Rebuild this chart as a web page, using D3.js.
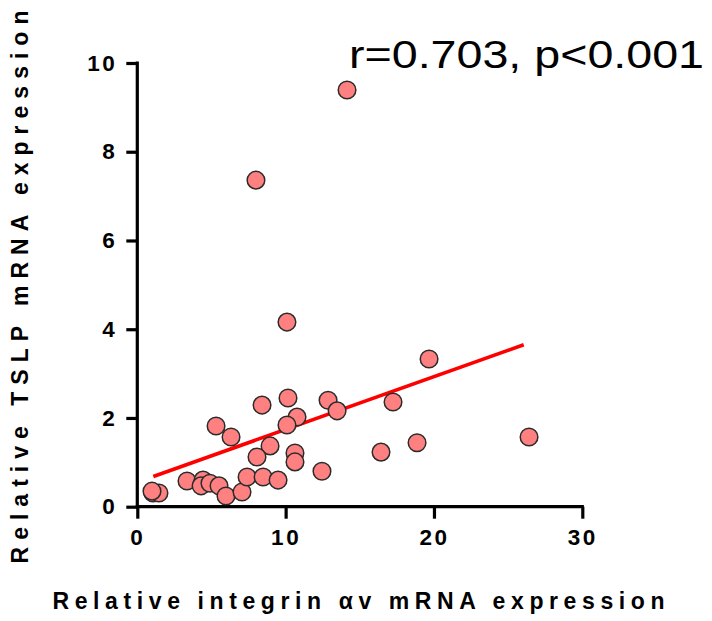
<!DOCTYPE html>
<html>
<head>
<meta charset="utf-8">
<script src="https://cdn.jsdelivr.net/npm/d3@7"></script>
<style>
  html, body { margin: 0; padding: 0; background: #fff; }
  svg { display: block; }
</style>
</head>
<body>
<svg id="chart" width="712" height="621"></svg>
<script>
// ---- data ----
const integrinAv = [14.14, 8.0, 10.09, 19.67, 10.16, 12.86, 8.41, 13.47, 17.24, 5.31,
                    10.77, 10.09, 6.32, 8.95, 10.63, 10.63, 8.07, 16.43, 18.86, 26.41,
                    12.45, 3.35, 4.43, 4.30, 4.90, 5.51, 5.98, 7.06, 7.40, 8.48,
                    9.49, 1.06, 1.46, 0.99];
const tslp = [9.39, 7.36, 4.16, 3.33, 2.45, 2.40, 2.29, 2.16, 2.36, 1.82,
              2.02, 1.84, 1.57, 1.37, 1.21, 1.01, 1.12, 1.23, 1.44, 1.57,
              0.80, 0.58, 0.60, 0.47, 0.53, 0.47, 0.24, 0.33, 0.67, 0.67,
              0.60, 0.31, 0.31, 0.35];
const fitX = [1.08, 26.05];
const fitY = [0.68, 3.65];
const xTicks = [0, 10, 20, 30];
const yTicks = [0, 2, 4, 6, 8, 10];
const xLabel = "Relative integrin \u03b1v mRNA expression";
const yLabel = "Relative TSLP mRNA expression";
const statText = "r=0.703, p<0.001";

// ---- layout ----
const svg = d3.select("#chart");
const x = d3.scaleLinear().domain([0, 30]).range([137.3, 582.3]);
const y = d3.scaleLinear().domain([0, 10]).range([506.7, 63]);

const axisFont = "Arial, 'Liberation Sans', Helvetica, sans-serif";

// axes
const xAxis = d3.axisBottom(x).tickValues(xTicks).tickSize(12).tickPadding(10).tickFormat(d3.format("d"));
const yAxis = d3.axisLeft(y).tickValues(yTicks).tickSize(11).tickPadding(9).tickFormat(d3.format("d"));

const gx = svg.append("g").attr("transform", `translate(0,${y(0)})`).call(xAxis);
const gy = svg.append("g").attr("transform", `translate(${x(0)},0)`).call(yAxis);

[gx, gy].forEach(g => {
  g.select(".domain").attr("stroke", "#000").attr("stroke-width", 3.2)
    .attr("stroke-linecap", "square");
  g.selectAll(".tick line").attr("stroke", "#000").attr("stroke-width", 3.2);
  g.selectAll(".tick text")
    .attr("fill", "#000")
    .style("font-family", axisFont)
    .style("font-weight", "bold")
    .style("font-size", "22.5px")
    .style("letter-spacing", "2.5px");
});
gx.select(".domain").attr("d", `M${x(0)},0H${x(30)}`);
gy.select(".domain").attr("d", `M0,${y(10)}V${y(0)}`);

// regression line
svg.append("line")
  .attr("x1", x(fitX[0])).attr("y1", y(fitY[0]))
  .attr("x2", x(fitX[1])).attr("y2", y(fitY[1]))
  .attr("stroke", "#ff0000")
  .attr("stroke-width", 3.6);

// points
const pts = integrinAv.map((v, i) => ({ x: v, y: tslp[i] }));
svg.append("g").selectAll("circle")
  .data(pts).join("circle")
  .attr("cx", d => x(d.x))
  .attr("cy", d => y(d.y))
  .attr("r", 8.8)
  .attr("fill", "#ff8080")
  .attr("stroke", "#2b2b2b")
  .attr("stroke-width", 1.5);

// axis titles
svg.append("text")
  .attr("x", 358.5).attr("y", 609)
  .attr("text-anchor", "middle")
  .attr("textLength", 612)
  .attr("lengthAdjust", "spacing")
  .style("font-family", axisFont)
  .style("font-weight", "bold")
  .style("font-size", "23px")
  .attr("fill", "#000")
  .text(xLabel);

svg.append("text")
  .attr("transform", "translate(28,287) rotate(-90)")
  .attr("text-anchor", "middle")
  .attr("textLength", 553)
  .attr("lengthAdjust", "spacing")
  .style("font-family", axisFont)
  .style("font-weight", "bold")
  .style("font-size", "23px")
  .attr("fill", "#000")
  .text(yLabel);

// statistic
svg.append("text")
  .attr("x", 349).attr("y", 68)
  .attr("textLength", 355)
  .attr("lengthAdjust", "spacingAndGlyphs")
  .style("font-family", axisFont)
  .style("font-size", "39px")
  .attr("fill", "#000")
  .text(statText);
</script>
</body>
</html>
